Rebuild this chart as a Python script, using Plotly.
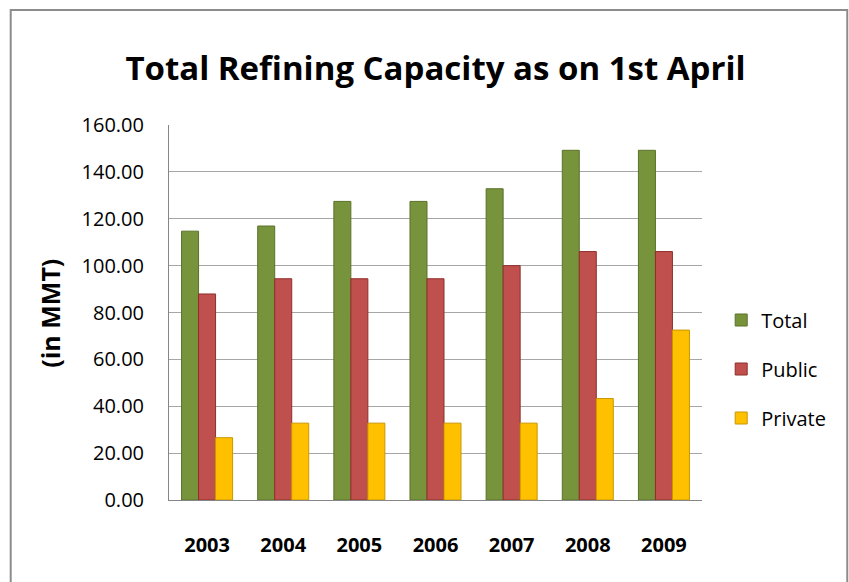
import plotly.graph_objects as go

years = ["2003", "2004", "2005", "2006", "2007", "2008", "2009"]
total = [114.7, 116.9, 127.4, 127.4, 132.8, 149.2, 149.2]
public = [87.9, 94.4, 94.4, 94.4, 100.0, 106.0, 106.0]
private = [26.6, 32.8, 32.8, 32.8, 32.8, 43.3, 72.5]
yticks = [0, 20, 40, 60, 80, 100, 120, 140, 160]

series = [
    ("Total", total, "#77933C", "#5A7229"),
    ("Public", public, "#C0504D", "#8E2E2B"),
    ("Private", private, "#FFC000", "#C99700"),
]

fig = go.Figure()
for name, vals, col, edge in series:
    fig.add_trace(go.Bar(
        x=years, y=vals, name=name, legendgroup=name,
        marker=dict(color=col, line=dict(color=edge, width=1)),
    ))

fig.update_layout(
    width=849, height=582,
    margin=dict(l=169, r=147, t=125, b=82),
    paper_bgcolor="white", plot_bgcolor="white",
    barmode="group", bargap=0.33, bargroupgap=0,
    font=dict(family="Open Sans, Liberation Sans", color="#000000"),
    title=dict(
        text="<b>Total Refining Capacity as on 1st April</b>",
        x=0.5, xanchor="center", xref="paper",
        y=1 - 68 / 582, yanchor="middle",
        font=dict(size=33, family="Open Sans", color="#000000"),
    ),
    xaxis=dict(
        showline=True, linecolor="#868686", linewidth=1,
        ticks="", tickfont=dict(size=20, family="Open Sans"),
        tickprefix="<b>", ticksuffix="</b>",
        ticklabelstandoff=27,
    ),
    yaxis=dict(
        range=[0, 160], tickvals=yticks,
        ticktext=[f"{v:.2f}" for v in yticks],
        showgrid=True, gridcolor="#A6A6A6", gridwidth=1,
        showline=True, linecolor="#868686", linewidth=1,
        zeroline=False, ticks="",
        tickfont=dict(size=20, family="Open Sans"),
        ticklabelstandoff=20,
    ),
    annotations=[dict(
        text="<b>(in MMT)</b>", xref="paper", yref="paper",
        x=(50 - 169) / 532, y=(500 - 313) / 375,
        xanchor="center", yanchor="middle", textangle=-90,
        showarrow=False, font=dict(size=25, family="Open Sans"),
    )],
    legend=dict(
        x=1.036, xanchor="left", y=(500 - 369) / 375, yanchor="middle",
        font=dict(size=20, family="Open Sans"),
        tracegroupgap=20, itemwidth=30,
        bgcolor="rgba(0,0,0,0)",
    ),
    shapes=[dict(
        type="rect", xref="paper", yref="paper",
        x0=(11 - 169) / 532, x1=(846 - 169) / 532,
        y0=-0.5, y1=(500 - 10) / 375,
        line=dict(color="#8C8C8C", width=2), fillcolor="rgba(0,0,0,0)",
        layer="below",
    )],
)

fig.write_html("out.html", config={"displayModeBar": False},
               post_script="document.body.style.margin='0';")
